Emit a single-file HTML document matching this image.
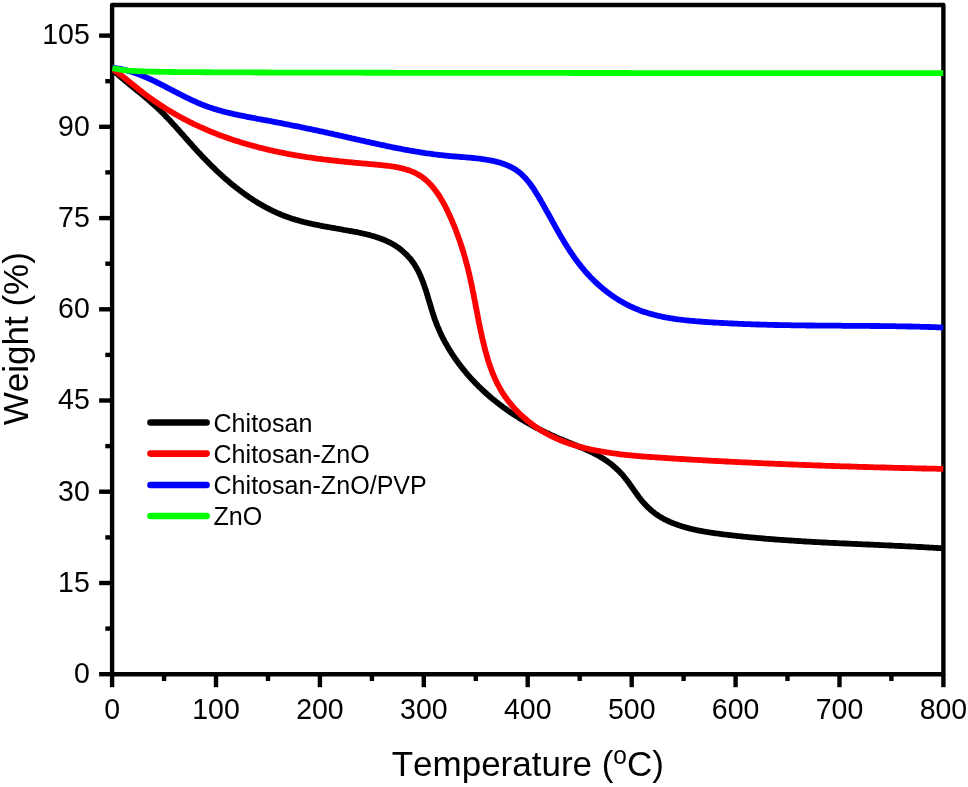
<!DOCTYPE html>
<html lang="en">
<head>
<meta charset="utf-8">
<title>TGA curves</title>
<style>
html,body{margin:0;padding:0;background:#fff;}
body{width:968px;height:787px;overflow:hidden;}
svg{display:block;will-change:transform;}
text{font-family:"Liberation Sans",Arial,Helvetica,sans-serif;fill:#000;font-kerning:none;}
.tick{font-size:28.5px;}
.title{font-size:35px;}
.leg{font-size:25.1px;}
</style>
</head>
<body>
<svg width="968" height="787" viewBox="0 0 968 787">
<rect x="0" y="0" width="968" height="787" fill="#ffffff"/>
<rect x="112.1" y="5.0" width="831.3" height="669.2" fill="none" stroke="#000" stroke-width="4.4" stroke-linejoin="round"/>
<g stroke="#000" stroke-width="4.4" fill="none">
<line x1="112.1" y1="674.2" x2="112.1" y2="687.2"/>
<line x1="164.1" y1="674.2" x2="164.1" y2="681.0"/>
<line x1="216.0" y1="674.2" x2="216.0" y2="687.2"/>
<line x1="268.0" y1="674.2" x2="268.0" y2="681.0"/>
<line x1="319.9" y1="674.2" x2="319.9" y2="687.2"/>
<line x1="371.9" y1="674.2" x2="371.9" y2="681.0"/>
<line x1="423.8" y1="674.2" x2="423.8" y2="687.2"/>
<line x1="475.8" y1="674.2" x2="475.8" y2="681.0"/>
<line x1="527.7" y1="674.2" x2="527.7" y2="687.2"/>
<line x1="579.7" y1="674.2" x2="579.7" y2="681.0"/>
<line x1="631.7" y1="674.2" x2="631.7" y2="687.2"/>
<line x1="683.6" y1="674.2" x2="683.6" y2="681.0"/>
<line x1="735.6" y1="674.2" x2="735.6" y2="687.2"/>
<line x1="787.5" y1="674.2" x2="787.5" y2="681.0"/>
<line x1="839.5" y1="674.2" x2="839.5" y2="687.2"/>
<line x1="891.4" y1="674.2" x2="891.4" y2="681.0"/>
<line x1="943.4" y1="674.2" x2="943.4" y2="687.2"/>
<line x1="112.1" y1="674.2" x2="99.1" y2="674.2"/>
<line x1="112.1" y1="628.6" x2="105.3" y2="628.6"/>
<line x1="112.1" y1="583.0" x2="99.1" y2="583.0"/>
<line x1="112.1" y1="537.4" x2="105.3" y2="537.4"/>
<line x1="112.1" y1="491.7" x2="99.1" y2="491.7"/>
<line x1="112.1" y1="446.1" x2="105.3" y2="446.1"/>
<line x1="112.1" y1="400.5" x2="99.1" y2="400.5"/>
<line x1="112.1" y1="354.9" x2="105.3" y2="354.9"/>
<line x1="112.1" y1="309.3" x2="99.1" y2="309.3"/>
<line x1="112.1" y1="263.7" x2="105.3" y2="263.7"/>
<line x1="112.1" y1="218.1" x2="99.1" y2="218.1"/>
<line x1="112.1" y1="172.4" x2="105.3" y2="172.4"/>
<line x1="112.1" y1="126.8" x2="99.1" y2="126.8"/>
<line x1="112.1" y1="81.2" x2="105.3" y2="81.2"/>
<line x1="112.1" y1="35.6" x2="99.1" y2="35.6"/>
</g>
<text class="tick" transform="translate(112.1,718.8) scale(1,1.055)" text-anchor="middle">0</text>
<text class="tick" transform="translate(216.0,718.8) scale(1,1.055)" text-anchor="middle">100</text>
<text class="tick" transform="translate(319.9,718.8) scale(1,1.055)" text-anchor="middle">200</text>
<text class="tick" transform="translate(423.8,718.8) scale(1,1.055)" text-anchor="middle">300</text>
<text class="tick" transform="translate(527.7,718.8) scale(1,1.055)" text-anchor="middle">400</text>
<text class="tick" transform="translate(631.7,718.8) scale(1,1.055)" text-anchor="middle">500</text>
<text class="tick" transform="translate(735.6,718.8) scale(1,1.055)" text-anchor="middle">600</text>
<text class="tick" transform="translate(839.5,718.8) scale(1,1.055)" text-anchor="middle">700</text>
<text class="tick" transform="translate(943.4,718.8) scale(1,1.055)" text-anchor="middle">800</text>
<text class="tick" transform="translate(89.8,683.0) scale(1,1.055)" text-anchor="end">0</text>
<text class="tick" transform="translate(89.8,591.8) scale(1,1.055)" text-anchor="end">15</text>
<text class="tick" transform="translate(89.8,500.5) scale(1,1.055)" text-anchor="end">30</text>
<text class="tick" transform="translate(89.8,409.3) scale(1,1.055)" text-anchor="end">45</text>
<text class="tick" transform="translate(89.8,318.1) scale(1,1.055)" text-anchor="end">60</text>
<text class="tick" transform="translate(89.8,226.9) scale(1,1.055)" text-anchor="end">75</text>
<text class="tick" transform="translate(89.8,135.6) scale(1,1.055)" text-anchor="end">90</text>
<text class="tick" transform="translate(89.8,44.4) scale(1,1.055)" text-anchor="end">105</text>
<text class="title" transform="translate(527.8,776.4) scale(1,1.02)" text-anchor="middle">Temperature (<tspan font-size="24.5px" dy="-12.6">o</tspan><tspan dy="12.6">C)</tspan></text>
<text class="title" transform="translate(28.3,338.7) rotate(-90) scale(1,1.02)" text-anchor="middle">Weight (%)</text>
<defs><clipPath id="plotclip"><rect x="112" y="0" width="831.6" height="787"/></clipPath></defs>
<g clip-path="url(#plotclip)">
<path d="M112.4 69.5 L113.5 70.5 L114.6 71.5 L115.7 72.6 L116.8 73.6 L118.0 74.6 L119.1 75.5 L120.2 76.5 L121.4 77.5 L122.5 78.5 L123.7 79.4 L124.8 80.4 L126.0 81.4 L127.1 82.3 L128.3 83.3 L129.4 84.2 L130.6 85.2 L131.8 86.1 L132.9 87.1 L134.1 88.0 L135.3 89.0 L136.4 89.9 L137.6 90.9 L138.8 91.8 L139.9 92.8 L141.1 93.7 L142.3 94.7 L143.4 95.7 L144.6 96.6 L145.7 97.6 L146.9 98.5 L148.0 99.5 L149.2 100.5 L150.3 101.5 L151.4 102.5 L152.5 103.5 L153.7 104.5 L154.8 105.5 L155.9 106.5 L157.0 107.5 L158.1 108.6 L159.1 109.6 L160.2 110.6 L161.3 111.7 L162.3 112.7 L163.4 113.8 L164.5 114.9 L165.5 116.0 L166.6 117.0 L167.6 118.1 L168.6 119.2 L169.7 120.3 L170.7 121.4 L171.7 122.5 L172.7 123.6 L173.7 124.7 L174.8 125.8 L175.8 127.0 L176.8 128.1 L177.8 129.2 L178.8 130.3 L179.8 131.4 L180.8 132.6 L181.8 133.7 L182.8 134.8 L183.8 135.9 L184.8 137.1 L185.8 138.2 L186.8 139.3 L187.8 140.5 L188.8 141.6 L189.8 142.7 L190.8 143.8 L191.8 144.9 L192.8 146.1 L193.8 147.2 L194.8 148.3 L195.8 149.4 L196.8 150.5 L197.8 151.6 L198.9 152.7 L199.9 153.8 L200.9 154.9 L201.9 156.0 L203.0 157.1 L204.0 158.1 L205.1 159.2 L206.1 160.3 L207.1 161.4 L208.2 162.4 L209.2 163.5 L210.3 164.6 L211.4 165.6 L212.4 166.7 L213.5 167.7 L214.6 168.7 L215.6 169.8 L216.7 170.8 L217.8 171.8 L218.9 172.9 L220.0 173.9 L221.1 174.9 L222.2 175.9 L223.3 176.9 L224.4 177.9 L225.6 178.9 L226.7 179.8 L227.8 180.8 L229.0 181.8 L230.1 182.8 L231.2 183.7 L232.4 184.7 L233.6 185.6 L234.7 186.5 L235.9 187.5 L237.1 188.4 L238.3 189.3 L239.5 190.2 L240.7 191.1 L241.9 192.0 L243.1 192.9 L244.3 193.8 L245.5 194.7 L246.8 195.5 L248.0 196.4 L249.3 197.3 L250.5 198.1 L251.8 198.9 L253.1 199.8 L254.3 200.6 L255.6 201.4 L256.9 202.2 L258.2 203.0 L259.5 203.8 L260.8 204.5 L262.1 205.3 L263.5 206.0 L264.8 206.8 L266.1 207.5 L267.4 208.2 L268.8 208.9 L270.1 209.6 L271.5 210.2 L272.8 210.9 L274.2 211.6 L275.6 212.2 L276.9 212.8 L278.3 213.4 L279.7 214.0 L281.1 214.6 L282.5 215.2 L283.9 215.7 L285.3 216.2 L286.7 216.8 L288.1 217.3 L289.5 217.8 L290.9 218.2 L292.3 218.7 L293.7 219.1 L295.1 219.6 L296.6 220.0 L298.0 220.4 L299.4 220.8 L300.8 221.2 L302.3 221.6 L303.7 222.0 L305.2 222.3 L306.6 222.7 L308.1 223.0 L309.5 223.4 L311.0 223.7 L312.4 224.0 L313.9 224.3 L315.3 224.6 L316.8 224.9 L318.3 225.2 L319.7 225.5 L321.2 225.8 L322.7 226.1 L324.2 226.4 L325.6 226.6 L327.1 226.9 L328.6 227.2 L330.1 227.4 L331.5 227.7 L333.0 227.9 L334.5 228.2 L336.0 228.5 L337.5 228.7 L339.0 229.0 L340.5 229.2 L342.0 229.5 L343.5 229.8 L344.9 230.0 L346.4 230.3 L347.9 230.5 L349.4 230.8 L350.9 231.1 L352.4 231.4 L353.9 231.7 L355.4 231.9 L356.9 232.2 L358.4 232.5 L359.9 232.8 L361.4 233.2 L362.9 233.5 L364.4 233.8 L365.8 234.2 L367.3 234.5 L368.8 234.9 L370.2 235.3 L371.7 235.7 L373.2 236.1 L374.6 236.5 L376.0 237.0 L377.5 237.4 L378.9 237.9 L380.3 238.4 L381.7 238.9 L383.1 239.5 L384.5 240.1 L385.8 240.7 L387.2 241.3 L388.5 241.9 L389.9 242.6 L391.2 243.3 L392.5 244.0 L393.8 244.7 L395.0 245.5 L396.3 246.3 L397.5 247.2 L398.8 248.0 L400.0 248.9 L401.1 249.9 L402.3 250.8 L403.4 251.8 L404.5 252.8 L405.6 253.8 L406.7 254.9 L407.7 256.0 L408.7 257.1 L409.7 258.2 L410.7 259.3 L411.6 260.5 L412.5 261.7 L413.4 262.9 L414.2 264.1 L415.0 265.4 L415.8 266.7 L416.5 268.0 L417.3 269.3 L418.0 270.6 L418.6 271.9 L419.3 273.3 L419.9 274.6 L420.5 276.0 L421.1 277.4 L421.7 278.8 L422.2 280.2 L422.8 281.6 L423.3 283.0 L423.8 284.4 L424.3 285.8 L424.8 287.3 L425.3 288.7 L425.8 290.1 L426.2 291.6 L426.7 293.0 L427.1 294.5 L427.6 295.9 L428.0 297.4 L428.4 298.8 L428.9 300.3 L429.3 301.7 L429.7 303.2 L430.2 304.6 L430.6 306.1 L431.0 307.5 L431.5 309.0 L431.9 310.4 L432.4 311.9 L432.8 313.3 L433.3 314.7 L433.8 316.2 L434.2 317.6 L434.7 319.0 L435.2 320.4 L435.8 321.9 L436.3 323.3 L436.8 324.7 L437.4 326.1 L438.0 327.4 L438.6 328.8 L439.2 330.2 L439.8 331.6 L440.4 332.9 L441.0 334.3 L441.7 335.6 L442.3 337.0 L443.0 338.3 L443.7 339.6 L444.4 341.0 L445.1 342.3 L445.8 343.6 L446.6 344.9 L447.3 346.2 L448.1 347.5 L448.8 348.8 L449.6 350.1 L450.4 351.3 L451.2 352.6 L452.0 353.9 L452.8 355.1 L453.7 356.4 L454.5 357.6 L455.3 358.8 L456.2 360.1 L457.1 361.3 L458.0 362.5 L458.9 363.7 L459.8 364.9 L460.7 366.1 L461.6 367.3 L462.5 368.4 L463.5 369.6 L464.4 370.8 L465.4 371.9 L466.3 373.1 L467.3 374.2 L468.3 375.4 L469.3 376.5 L470.3 377.6 L471.3 378.7 L472.3 379.8 L473.4 380.9 L474.4 382.0 L475.4 383.1 L476.5 384.2 L477.6 385.2 L478.6 386.3 L479.7 387.3 L480.8 388.4 L481.9 389.4 L483.0 390.5 L484.1 391.5 L485.2 392.5 L486.3 393.5 L487.4 394.5 L488.6 395.5 L489.7 396.5 L490.8 397.5 L492.0 398.4 L493.2 399.4 L494.3 400.3 L495.5 401.3 L496.7 402.2 L497.8 403.1 L499.0 404.1 L500.2 405.0 L501.4 405.9 L502.6 406.8 L503.8 407.7 L505.1 408.5 L506.3 409.4 L507.5 410.3 L508.7 411.1 L510.0 412.0 L511.2 412.8 L512.4 413.6 L513.7 414.5 L515.0 415.3 L516.2 416.1 L517.5 416.9 L518.7 417.7 L520.0 418.5 L521.3 419.3 L522.6 420.0 L523.9 420.8 L525.2 421.6 L526.5 422.3 L527.8 423.0 L529.1 423.8 L530.4 424.5 L531.7 425.2 L533.0 426.0 L534.3 426.7 L535.7 427.4 L537.0 428.1 L538.3 428.8 L539.7 429.4 L541.0 430.1 L542.4 430.8 L543.7 431.5 L545.1 432.1 L546.4 432.8 L547.8 433.4 L549.2 434.0 L550.5 434.7 L551.9 435.3 L553.3 435.9 L554.6 436.5 L556.0 437.2 L557.4 437.8 L558.8 438.4 L560.2 438.9 L561.6 439.5 L563.0 440.1 L564.4 440.7 L565.8 441.3 L567.2 441.8 L568.6 442.4 L570.0 443.0 L571.4 443.5 L572.8 444.1 L574.2 444.7 L575.6 445.2 L577.0 445.8 L578.4 446.4 L579.8 447.0 L581.2 447.5 L582.6 448.1 L584.0 448.7 L585.4 449.3 L586.8 449.9 L588.1 450.6 L589.5 451.2 L590.8 451.8 L592.2 452.5 L593.5 453.2 L594.8 453.8 L596.2 454.5 L597.5 455.2 L598.8 455.9 L600.1 456.7 L601.3 457.4 L602.6 458.2 L603.9 459.0 L605.1 459.8 L606.3 460.6 L607.5 461.5 L608.7 462.4 L609.9 463.2 L611.1 464.1 L612.3 465.1 L613.4 466.0 L614.5 467.0 L615.7 468.0 L616.7 469.0 L617.8 470.0 L618.9 471.0 L619.9 472.1 L621.0 473.2 L622.0 474.3 L623.0 475.4 L623.9 476.6 L624.9 477.7 L625.8 478.9 L626.7 480.1 L627.7 481.3 L628.6 482.5 L629.4 483.8 L630.3 485.0 L631.2 486.3 L632.1 487.5 L633.0 488.8 L633.8 490.0 L634.7 491.3 L635.6 492.5 L636.5 493.7 L637.4 495.0 L638.3 496.2 L639.2 497.4 L640.1 498.6 L641.0 499.8 L642.0 501.0 L643.0 502.1 L644.0 503.2 L645.0 504.4 L646.0 505.4 L647.0 506.5 L648.1 507.5 L649.2 508.6 L650.3 509.5 L651.4 510.5 L652.6 511.5 L653.8 512.4 L654.9 513.3 L656.1 514.2 L657.4 515.0 L658.6 515.8 L659.8 516.6 L661.1 517.4 L662.4 518.1 L663.7 518.9 L665.0 519.6 L666.3 520.2 L667.7 520.9 L669.0 521.5 L670.4 522.1 L671.8 522.7 L673.2 523.2 L674.6 523.8 L676.0 524.3 L677.4 524.8 L678.8 525.3 L680.2 525.7 L681.6 526.2 L683.1 526.6 L684.5 527.1 L685.9 527.5 L687.4 527.9 L688.8 528.3 L690.3 528.6 L691.7 529.0 L693.2 529.3 L694.7 529.7 L696.1 530.0 L697.6 530.3 L699.1 530.6 L700.6 530.9 L702.1 531.2 L703.5 531.5 L705.0 531.7 L706.5 532.0 L708.0 532.2 L709.5 532.5 L711.0 532.7 L712.5 532.9 L714.0 533.1 L715.5 533.3 L717.0 533.5 L718.5 533.7 L720.0 533.9 L721.5 534.1 L723.0 534.3 L724.5 534.5 L726.0 534.7 L727.5 534.9 L729.0 535.0 L730.5 535.2 L732.0 535.4 L733.5 535.6 L735.0 535.7 L736.5 535.9 L738.1 536.1 L739.6 536.2 L741.1 536.4 L742.6 536.5 L744.1 536.7 L745.6 536.8 L747.1 537.0 L748.6 537.1 L750.1 537.3 L751.6 537.4 L753.1 537.6 L754.6 537.7 L756.1 537.8 L757.6 538.0 L759.1 538.1 L760.6 538.2 L762.1 538.4 L763.6 538.5 L765.1 538.6 L766.5 538.8 L768.0 538.9 L769.5 539.0 L771.0 539.1 L772.5 539.2 L774.0 539.4 L775.5 539.5 L777.0 539.6 L778.5 539.7 L780.0 539.8 L781.5 539.9 L783.0 540.0 L784.5 540.1 L786.0 540.2 L787.5 540.3 L789.0 540.4 L790.5 540.5 L792.0 540.6 L793.5 540.7 L795.0 540.8 L796.5 540.9 L798.0 541.0 L799.5 541.1 L801.0 541.2 L802.5 541.3 L804.0 541.4 L805.5 541.5 L806.9 541.6 L808.4 541.6 L809.9 541.7 L811.4 541.8 L812.9 541.9 L814.4 542.0 L815.9 542.1 L817.4 542.1 L818.9 542.2 L820.4 542.3 L821.9 542.4 L823.4 542.5 L824.9 542.5 L826.4 542.6 L827.9 542.7 L829.4 542.8 L830.9 542.8 L832.4 542.9 L833.9 543.0 L835.4 543.0 L836.8 543.1 L838.3 543.2 L839.8 543.3 L841.3 543.3 L842.8 543.4 L844.3 543.5 L845.8 543.5 L847.3 543.6 L848.8 543.7 L850.3 543.7 L851.8 543.8 L853.3 543.9 L854.8 543.9 L856.3 544.0 L857.8 544.1 L859.3 544.1 L860.8 544.2 L862.3 544.3 L863.8 544.3 L865.3 544.4 L866.8 544.5 L868.3 544.5 L869.8 544.6 L871.3 544.7 L872.8 544.7 L874.3 544.8 L875.7 544.9 L877.2 544.9 L878.7 545.0 L880.2 545.1 L881.7 545.1 L883.2 545.2 L884.7 545.3 L886.2 545.3 L887.7 545.4 L889.2 545.5 L890.7 545.5 L892.2 545.6 L893.7 545.7 L895.2 545.8 L896.7 545.8 L898.2 545.9 L899.7 546.0 L901.2 546.0 L902.7 546.1 L904.2 546.2 L905.7 546.3 L907.3 546.3 L908.8 546.4 L910.3 546.5 L911.8 546.6 L913.3 546.6 L914.8 546.7 L916.3 546.8 L917.8 546.9 L919.3 547.0 L920.8 547.0 L922.3 547.1 L923.8 547.2 L925.3 547.3 L926.8 547.4 L928.3 547.5 L929.8 547.6 L931.3 547.6 L932.8 547.7 L934.3 547.8 L935.9 547.9 L937.4 548.0 L938.9 548.1 L940.4 548.2 L941.9 548.3 L943.4 548.4" fill="none" stroke="#000000" stroke-width="5.8" stroke-linejoin="round" stroke-linecap="butt"/>
<path d="M112.4 69.0 L113.6 69.8 L114.9 70.7 L116.1 71.5 L117.3 72.4 L118.5 73.3 L119.7 74.2 L120.9 75.1 L122.1 76.0 L123.3 77.0 L124.5 77.9 L125.7 78.8 L126.8 79.8 L128.0 80.7 L129.2 81.7 L130.4 82.6 L131.5 83.6 L132.7 84.5 L133.9 85.5 L135.1 86.4 L136.2 87.4 L137.4 88.3 L138.6 89.3 L139.8 90.2 L141.0 91.1 L142.2 92.1 L143.3 93.0 L144.5 93.9 L145.7 94.8 L147.0 95.7 L148.2 96.6 L149.4 97.5 L150.6 98.4 L151.8 99.2 L153.1 100.1 L154.3 101.0 L155.5 101.8 L156.8 102.6 L158.0 103.5 L159.3 104.3 L160.5 105.1 L161.8 106.0 L163.0 106.8 L164.3 107.6 L165.6 108.4 L166.8 109.2 L168.1 110.0 L169.4 110.7 L170.7 111.5 L172.0 112.3 L173.2 113.0 L174.5 113.8 L175.8 114.5 L177.1 115.3 L178.4 116.0 L179.8 116.7 L181.1 117.4 L182.4 118.2 L183.7 118.9 L185.0 119.6 L186.4 120.2 L187.7 120.9 L189.0 121.6 L190.4 122.3 L191.7 122.9 L193.0 123.6 L194.4 124.3 L195.7 124.9 L197.1 125.5 L198.5 126.2 L199.8 126.8 L201.2 127.4 L202.6 128.0 L203.9 128.6 L205.3 129.2 L206.7 129.8 L208.1 130.4 L209.4 131.0 L210.8 131.6 L212.2 132.2 L213.6 132.7 L215.0 133.3 L216.4 133.8 L217.8 134.4 L219.2 134.9 L220.6 135.4 L222.0 136.0 L223.5 136.5 L224.9 137.0 L226.3 137.5 L227.7 138.0 L229.1 138.5 L230.6 139.0 L232.0 139.5 L233.4 139.9 L234.8 140.4 L236.3 140.9 L237.7 141.3 L239.2 141.8 L240.6 142.2 L242.0 142.7 L243.5 143.1 L244.9 143.5 L246.4 144.0 L247.8 144.4 L249.3 144.8 L250.7 145.2 L252.2 145.6 L253.6 146.0 L255.1 146.4 L256.6 146.8 L258.0 147.2 L259.5 147.6 L260.9 147.9 L262.4 148.3 L263.9 148.7 L265.3 149.0 L266.8 149.4 L268.3 149.7 L269.7 150.1 L271.2 150.4 L272.7 150.7 L274.2 151.1 L275.6 151.4 L277.1 151.7 L278.6 152.0 L280.1 152.3 L281.5 152.6 L283.0 152.9 L284.5 153.2 L286.0 153.5 L287.5 153.8 L288.9 154.1 L290.4 154.3 L291.9 154.6 L293.4 154.9 L294.8 155.1 L296.3 155.4 L297.8 155.6 L299.3 155.9 L300.8 156.1 L302.2 156.4 L303.7 156.6 L305.2 156.8 L306.7 157.1 L308.2 157.3 L309.6 157.5 L311.1 157.7 L312.6 157.9 L314.1 158.2 L315.6 158.4 L317.0 158.6 L318.5 158.8 L320.0 158.9 L321.5 159.1 L322.9 159.3 L324.4 159.5 L325.9 159.7 L327.4 159.9 L328.8 160.0 L330.3 160.2 L331.8 160.4 L333.3 160.5 L334.8 160.7 L336.2 160.9 L337.7 161.0 L339.2 161.2 L340.7 161.3 L342.2 161.5 L343.7 161.6 L345.1 161.8 L346.6 161.9 L348.1 162.1 L349.6 162.2 L351.1 162.4 L352.6 162.5 L354.1 162.6 L355.6 162.8 L357.1 162.9 L358.6 163.1 L360.1 163.2 L361.6 163.3 L363.1 163.5 L364.6 163.6 L366.2 163.7 L367.7 163.9 L369.2 164.0 L370.7 164.2 L372.2 164.3 L373.8 164.4 L375.3 164.6 L376.8 164.7 L378.4 164.9 L379.9 165.0 L381.4 165.1 L383.0 165.3 L384.5 165.5 L386.0 165.6 L387.6 165.8 L389.1 166.0 L390.6 166.2 L392.1 166.5 L393.6 166.7 L395.1 166.9 L396.6 167.2 L398.1 167.5 L399.6 167.8 L401.0 168.1 L402.5 168.5 L403.9 168.9 L405.4 169.3 L406.8 169.7 L408.2 170.1 L409.6 170.6 L410.9 171.1 L412.3 171.7 L413.6 172.2 L414.9 172.8 L416.2 173.5 L417.5 174.2 L418.7 174.9 L420.0 175.6 L421.2 176.4 L422.4 177.2 L423.5 178.1 L424.7 179.0 L425.8 180.0 L426.9 180.9 L428.0 181.9 L429.0 183.0 L430.0 184.0 L431.1 185.1 L432.0 186.3 L433.0 187.4 L434.0 188.6 L434.9 189.8 L435.8 191.0 L436.7 192.2 L437.6 193.5 L438.4 194.7 L439.3 196.0 L440.1 197.3 L440.9 198.6 L441.7 200.0 L442.5 201.3 L443.2 202.6 L443.9 204.0 L444.7 205.3 L445.4 206.7 L446.1 208.0 L446.8 209.4 L447.4 210.8 L448.1 212.2 L448.7 213.6 L449.4 215.0 L450.0 216.3 L450.6 217.7 L451.3 219.1 L451.9 220.5 L452.5 221.9 L453.0 223.3 L453.6 224.7 L454.2 226.1 L454.8 227.5 L455.3 228.9 L455.9 230.3 L456.4 231.7 L456.9 233.1 L457.4 234.5 L458.0 236.0 L458.5 237.4 L459.0 238.8 L459.5 240.2 L460.0 241.6 L460.4 243.0 L460.9 244.4 L461.4 245.9 L461.8 247.3 L462.3 248.7 L462.7 250.1 L463.2 251.5 L463.6 253.0 L464.0 254.4 L464.4 255.8 L464.9 257.3 L465.3 258.7 L465.7 260.1 L466.0 261.6 L466.4 263.0 L466.8 264.4 L467.2 265.9 L467.6 267.3 L467.9 268.8 L468.3 270.2 L468.6 271.7 L469.0 273.1 L469.3 274.6 L469.7 276.0 L470.0 277.5 L470.3 278.9 L470.6 280.4 L471.0 281.9 L471.3 283.3 L471.6 284.8 L471.9 286.3 L472.2 287.7 L472.5 289.2 L472.8 290.7 L473.1 292.1 L473.4 293.6 L473.7 295.1 L474.0 296.5 L474.2 298.0 L474.5 299.5 L474.8 301.0 L475.1 302.4 L475.4 303.9 L475.7 305.4 L475.9 306.9 L476.2 308.4 L476.5 309.8 L476.8 311.3 L477.1 312.8 L477.4 314.3 L477.6 315.8 L477.9 317.2 L478.2 318.7 L478.5 320.2 L478.8 321.7 L479.1 323.2 L479.4 324.6 L479.7 326.1 L480.0 327.6 L480.3 329.1 L480.6 330.5 L480.9 332.0 L481.3 333.5 L481.6 335.0 L481.9 336.4 L482.2 337.9 L482.6 339.4 L482.9 340.9 L483.3 342.3 L483.6 343.8 L484.0 345.3 L484.4 346.7 L484.7 348.2 L485.1 349.7 L485.5 351.1 L485.9 352.6 L486.3 354.1 L486.7 355.5 L487.1 357.0 L487.6 358.4 L488.0 359.9 L488.4 361.3 L488.9 362.7 L489.4 364.2 L489.9 365.6 L490.3 367.0 L490.9 368.4 L491.4 369.8 L491.9 371.2 L492.4 372.6 L493.0 374.0 L493.6 375.4 L494.2 376.8 L494.8 378.2 L495.4 379.5 L496.0 380.9 L496.7 382.2 L497.3 383.6 L498.0 384.9 L498.7 386.2 L499.4 387.5 L500.1 388.8 L500.9 390.1 L501.7 391.4 L502.4 392.6 L503.3 393.9 L504.1 395.1 L504.9 396.4 L505.8 397.6 L506.7 398.8 L507.5 400.0 L508.5 401.2 L509.4 402.4 L510.3 403.5 L511.3 404.7 L512.2 405.8 L513.2 407.0 L514.2 408.1 L515.2 409.2 L516.3 410.3 L517.3 411.4 L518.4 412.5 L519.4 413.5 L520.5 414.6 L521.6 415.6 L522.7 416.6 L523.9 417.6 L525.0 418.6 L526.2 419.6 L527.3 420.5 L528.5 421.5 L529.7 422.4 L530.9 423.3 L532.1 424.3 L533.3 425.1 L534.5 426.0 L535.7 426.9 L537.0 427.7 L538.2 428.6 L539.5 429.4 L540.8 430.2 L542.1 431.0 L543.4 431.8 L544.7 432.5 L546.0 433.3 L547.3 434.0 L548.6 434.7 L549.9 435.4 L551.3 436.1 L552.6 436.8 L554.0 437.4 L555.3 438.0 L556.7 438.7 L558.1 439.3 L559.5 439.8 L560.8 440.4 L562.2 441.0 L563.6 441.5 L565.0 442.0 L566.4 442.6 L567.8 443.1 L569.3 443.6 L570.7 444.0 L572.1 444.5 L573.5 444.9 L575.0 445.4 L576.4 445.8 L577.9 446.2 L579.3 446.6 L580.7 447.0 L582.2 447.4 L583.7 447.8 L585.1 448.1 L586.6 448.5 L588.0 448.8 L589.5 449.1 L591.0 449.5 L592.4 449.8 L593.9 450.1 L595.4 450.4 L596.9 450.7 L598.3 450.9 L599.8 451.2 L601.3 451.5 L602.8 451.7 L604.3 452.0 L605.8 452.2 L607.2 452.5 L608.7 452.7 L610.2 452.9 L611.7 453.1 L613.2 453.3 L614.7 453.5 L616.2 453.7 L617.6 453.9 L619.1 454.1 L620.6 454.3 L622.1 454.5 L623.6 454.6 L625.1 454.8 L626.6 455.0 L628.1 455.1 L629.6 455.3 L631.1 455.4 L632.6 455.6 L634.1 455.7 L635.6 455.8 L637.1 456.0 L638.6 456.1 L640.1 456.2 L641.6 456.4 L643.1 456.5 L644.6 456.6 L646.1 456.7 L647.6 456.8 L649.1 456.9 L650.6 457.0 L652.1 457.1 L653.6 457.2 L655.1 457.3 L656.6 457.4 L658.1 457.5 L659.6 457.6 L661.1 457.7 L662.6 457.8 L664.1 457.9 L665.6 458.0 L667.1 458.1 L668.6 458.2 L670.1 458.3 L671.6 458.4 L673.1 458.5 L674.6 458.6 L676.1 458.7 L677.6 458.8 L679.1 458.9 L680.6 459.0 L682.1 459.0 L683.6 459.1 L685.1 459.2 L686.6 459.3 L688.1 459.4 L689.6 459.5 L691.1 459.6 L692.6 459.7 L694.1 459.8 L695.6 459.8 L697.1 459.9 L698.6 460.0 L700.1 460.1 L701.6 460.2 L703.1 460.3 L704.6 460.3 L706.1 460.4 L707.6 460.5 L709.1 460.6 L710.6 460.7 L712.1 460.8 L713.6 460.8 L715.1 460.9 L716.6 461.0 L718.1 461.1 L719.6 461.2 L721.1 461.2 L722.6 461.3 L724.1 461.4 L725.6 461.5 L727.1 461.5 L728.6 461.6 L730.1 461.7 L731.6 461.8 L733.1 461.8 L734.6 461.9 L736.1 462.0 L737.6 462.1 L739.1 462.1 L740.6 462.2 L742.1 462.3 L743.6 462.4 L745.1 462.4 L746.6 462.5 L748.1 462.6 L749.6 462.6 L751.1 462.7 L752.6 462.8 L754.1 462.9 L755.6 462.9 L757.1 463.0 L758.6 463.1 L760.1 463.1 L761.6 463.2 L763.1 463.3 L764.6 463.3 L766.1 463.4 L767.6 463.5 L769.1 463.5 L770.6 463.6 L772.1 463.7 L773.6 463.7 L775.1 463.8 L776.6 463.9 L778.1 463.9 L779.6 464.0 L781.1 464.0 L782.7 464.1 L784.2 464.2 L785.7 464.2 L787.2 464.3 L788.7 464.4 L790.2 464.4 L791.7 464.5 L793.2 464.5 L794.7 464.6 L796.2 464.6 L797.7 464.7 L799.2 464.8 L800.7 464.8 L802.2 464.9 L803.7 464.9 L805.2 465.0 L806.7 465.1 L808.2 465.1 L809.7 465.2 L811.2 465.2 L812.7 465.3 L814.2 465.3 L815.7 465.4 L817.2 465.4 L818.7 465.5 L820.2 465.5 L821.7 465.6 L823.2 465.6 L824.7 465.7 L826.2 465.8 L827.7 465.8 L829.2 465.9 L830.7 465.9 L832.2 466.0 L833.7 466.0 L835.2 466.1 L836.7 466.1 L838.2 466.2 L839.7 466.2 L841.2 466.3 L842.7 466.3 L844.2 466.4 L845.7 466.4 L847.2 466.4 L848.7 466.5 L850.2 466.5 L851.7 466.6 L853.2 466.6 L854.7 466.7 L856.2 466.7 L857.7 466.8 L859.2 466.8 L860.7 466.9 L862.3 466.9 L863.8 467.0 L865.3 467.0 L866.8 467.0 L868.3 467.1 L869.8 467.1 L871.3 467.2 L872.8 467.2 L874.3 467.3 L875.8 467.3 L877.3 467.3 L878.8 467.4 L880.3 467.4 L881.8 467.5 L883.3 467.5 L884.8 467.5 L886.3 467.6 L887.8 467.6 L889.3 467.7 L890.8 467.7 L892.3 467.7 L893.8 467.8 L895.3 467.8 L896.8 467.8 L898.3 467.9 L899.8 467.9 L901.3 468.0 L902.8 468.0 L904.3 468.0 L905.8 468.1 L907.3 468.1 L908.8 468.1 L910.3 468.2 L911.8 468.2 L913.3 468.2 L914.8 468.3 L916.3 468.3 L917.8 468.4 L919.4 468.4 L920.9 468.4 L922.4 468.5 L923.9 468.5 L925.4 468.5 L926.9 468.6 L928.4 468.6 L929.9 468.6 L931.4 468.7 L932.9 468.7 L934.4 468.7 L935.9 468.7 L937.4 468.8 L938.9 468.8 L940.4 468.8 L941.9 468.9 L943.4 468.9" fill="none" stroke="#ff0000" stroke-width="5.8" stroke-linejoin="round" stroke-linecap="butt"/>
<path d="M112.4 67.6 L113.9 67.8 L115.4 68.0 L117.0 68.3 L118.5 68.5 L119.9 68.8 L121.4 69.1 L122.9 69.5 L124.4 69.8 L125.8 70.2 L127.3 70.6 L128.7 71.0 L130.2 71.4 L131.6 71.8 L133.0 72.3 L134.4 72.8 L135.8 73.3 L137.2 73.8 L138.6 74.3 L140.0 74.8 L141.4 75.4 L142.8 75.9 L144.2 76.5 L145.6 77.1 L146.9 77.7 L148.3 78.3 L149.6 78.9 L151.0 79.5 L152.4 80.2 L153.7 80.8 L155.1 81.4 L156.4 82.1 L157.8 82.8 L159.1 83.4 L160.4 84.1 L161.8 84.8 L163.1 85.5 L164.5 86.2 L165.8 86.9 L167.1 87.6 L168.5 88.3 L169.8 89.0 L171.1 89.7 L172.5 90.4 L173.8 91.1 L175.2 91.8 L176.5 92.5 L177.8 93.1 L179.2 93.8 L180.5 94.5 L181.9 95.2 L183.2 95.9 L184.6 96.6 L185.9 97.3 L187.3 97.9 L188.6 98.6 L190.0 99.2 L191.3 99.9 L192.7 100.5 L194.1 101.1 L195.4 101.7 L196.8 102.4 L198.2 103.0 L199.5 103.5 L200.9 104.1 L202.3 104.7 L203.7 105.2 L205.1 105.7 L206.5 106.3 L207.9 106.8 L209.3 107.3 L210.8 107.7 L212.2 108.2 L213.6 108.7 L215.0 109.1 L216.5 109.6 L217.9 110.0 L219.3 110.4 L220.8 110.8 L222.2 111.2 L223.7 111.6 L225.1 112.0 L226.6 112.3 L228.0 112.7 L229.5 113.0 L230.9 113.4 L232.4 113.7 L233.9 114.1 L235.3 114.4 L236.8 114.7 L238.3 115.0 L239.8 115.3 L241.2 115.6 L242.7 115.9 L244.2 116.2 L245.7 116.5 L247.1 116.8 L248.6 117.1 L250.1 117.4 L251.6 117.7 L253.1 117.9 L254.6 118.2 L256.0 118.5 L257.5 118.8 L259.0 119.0 L260.5 119.3 L262.0 119.6 L263.5 119.9 L264.9 120.1 L266.4 120.4 L267.9 120.7 L269.4 121.0 L270.9 121.2 L272.4 121.5 L273.8 121.8 L275.3 122.1 L276.8 122.4 L278.3 122.7 L279.7 122.9 L281.2 123.2 L282.7 123.5 L284.2 123.8 L285.7 124.1 L287.1 124.4 L288.6 124.7 L290.1 125.0 L291.6 125.3 L293.0 125.6 L294.5 125.8 L296.0 126.1 L297.4 126.4 L298.9 126.7 L300.4 127.0 L301.9 127.3 L303.3 127.6 L304.8 128.0 L306.3 128.3 L307.7 128.6 L309.2 128.9 L310.7 129.2 L312.2 129.5 L313.6 129.8 L315.1 130.1 L316.6 130.4 L318.0 130.7 L319.5 131.1 L321.0 131.4 L322.4 131.7 L323.9 132.0 L325.4 132.3 L326.8 132.6 L328.3 133.0 L329.8 133.3 L331.2 133.6 L332.7 133.9 L334.2 134.3 L335.6 134.6 L337.1 134.9 L338.5 135.3 L340.0 135.6 L341.5 135.9 L342.9 136.3 L344.4 136.6 L345.9 136.9 L347.3 137.3 L348.8 137.6 L350.3 137.9 L351.7 138.3 L353.2 138.6 L354.6 138.9 L356.1 139.3 L357.6 139.6 L359.0 139.9 L360.5 140.3 L362.0 140.6 L363.4 140.9 L364.9 141.2 L366.4 141.6 L367.8 141.9 L369.3 142.2 L370.8 142.6 L372.2 142.9 L373.7 143.2 L375.2 143.5 L376.6 143.9 L378.1 144.2 L379.6 144.5 L381.0 144.8 L382.5 145.1 L384.0 145.4 L385.4 145.7 L386.9 146.1 L388.4 146.4 L389.8 146.7 L391.3 147.0 L392.8 147.3 L394.2 147.6 L395.7 147.9 L397.2 148.2 L398.7 148.4 L400.1 148.7 L401.6 149.0 L403.1 149.3 L404.6 149.6 L406.0 149.8 L407.5 150.1 L409.0 150.4 L410.5 150.6 L412.0 150.9 L413.4 151.2 L414.9 151.4 L416.4 151.7 L417.9 151.9 L419.4 152.1 L420.8 152.4 L422.3 152.6 L423.8 152.8 L425.3 153.1 L426.8 153.3 L428.3 153.5 L429.8 153.7 L431.2 153.9 L432.7 154.1 L434.2 154.3 L435.7 154.5 L437.2 154.7 L438.7 154.9 L440.2 155.1 L441.7 155.2 L443.2 155.4 L444.7 155.5 L446.2 155.7 L447.7 155.9 L449.2 156.0 L450.7 156.1 L452.2 156.3 L453.7 156.4 L455.2 156.5 L456.7 156.6 L458.2 156.7 L459.7 156.9 L461.3 157.0 L462.8 157.1 L464.3 157.2 L465.8 157.3 L467.3 157.5 L468.8 157.6 L470.3 157.7 L471.8 157.9 L473.3 158.0 L474.9 158.2 L476.4 158.3 L477.9 158.5 L479.4 158.7 L480.9 158.9 L482.4 159.1 L483.9 159.3 L485.4 159.5 L486.9 159.8 L488.4 160.0 L489.9 160.3 L491.4 160.6 L492.9 160.9 L494.4 161.2 L495.9 161.6 L497.3 162.0 L498.8 162.4 L500.3 162.8 L501.7 163.2 L503.1 163.7 L504.5 164.2 L505.9 164.7 L507.3 165.3 L508.6 165.9 L510.0 166.5 L511.3 167.2 L512.6 167.8 L513.8 168.6 L515.1 169.3 L516.3 170.1 L517.5 171.0 L518.6 171.8 L519.8 172.7 L520.9 173.7 L521.9 174.6 L523.0 175.7 L524.0 176.7 L525.0 177.7 L526.0 178.8 L527.0 180.0 L527.9 181.1 L528.9 182.2 L529.8 183.4 L530.7 184.6 L531.5 185.9 L532.4 187.1 L533.3 188.3 L534.1 189.6 L534.9 190.9 L535.7 192.2 L536.5 193.5 L537.3 194.8 L538.1 196.1 L538.9 197.4 L539.7 198.7 L540.4 200.0 L541.2 201.4 L542.0 202.7 L542.7 204.0 L543.5 205.3 L544.2 206.7 L545.0 208.0 L545.7 209.3 L546.4 210.6 L547.2 212.0 L547.9 213.3 L548.7 214.6 L549.4 215.9 L550.1 217.3 L550.9 218.6 L551.6 219.9 L552.3 221.2 L553.0 222.5 L553.8 223.9 L554.5 225.2 L555.2 226.5 L556.0 227.8 L556.7 229.1 L557.5 230.4 L558.2 231.7 L558.9 233.0 L559.7 234.3 L560.4 235.6 L561.2 236.9 L562.0 238.2 L562.7 239.5 L563.5 240.7 L564.3 242.0 L565.0 243.3 L565.8 244.5 L566.6 245.8 L567.4 247.1 L568.2 248.3 L569.0 249.6 L569.8 250.8 L570.6 252.1 L571.5 253.3 L572.3 254.5 L573.1 255.7 L574.0 257.0 L574.8 258.2 L575.7 259.4 L576.6 260.6 L577.5 261.8 L578.4 263.0 L579.3 264.1 L580.2 265.3 L581.1 266.5 L582.1 267.6 L583.0 268.8 L584.0 269.9 L584.9 271.1 L585.9 272.2 L586.9 273.3 L587.9 274.4 L589.0 275.5 L590.0 276.6 L591.0 277.7 L592.1 278.8 L593.2 279.9 L594.3 280.9 L595.4 282.0 L596.5 283.0 L597.6 284.0 L598.7 285.1 L599.9 286.1 L601.0 287.1 L602.2 288.1 L603.4 289.0 L604.6 290.0 L605.8 290.9 L607.0 291.9 L608.2 292.8 L609.4 293.7 L610.7 294.6 L611.9 295.5 L613.2 296.4 L614.4 297.2 L615.7 298.1 L617.0 298.9 L618.3 299.7 L619.6 300.5 L620.9 301.3 L622.2 302.0 L623.5 302.8 L624.9 303.5 L626.2 304.2 L627.5 304.9 L628.9 305.6 L630.2 306.3 L631.6 306.9 L633.0 307.5 L634.3 308.1 L635.7 308.7 L637.1 309.3 L638.5 309.8 L639.9 310.4 L641.3 310.9 L642.7 311.4 L644.1 311.9 L645.5 312.3 L646.9 312.8 L648.3 313.2 L649.7 313.6 L651.2 314.0 L652.6 314.4 L654.0 314.8 L655.5 315.2 L656.9 315.5 L658.4 315.9 L659.8 316.2 L661.3 316.5 L662.7 316.8 L664.2 317.1 L665.7 317.4 L667.1 317.7 L668.6 317.9 L670.1 318.2 L671.5 318.4 L673.0 318.6 L674.5 318.9 L676.0 319.1 L677.5 319.3 L679.0 319.5 L680.5 319.7 L681.9 319.8 L683.4 320.0 L684.9 320.2 L686.4 320.3 L687.9 320.5 L689.4 320.6 L690.9 320.8 L692.4 320.9 L693.9 321.0 L695.4 321.2 L696.9 321.3 L698.4 321.4 L699.9 321.5 L701.4 321.6 L702.9 321.8 L704.4 321.9 L705.9 322.0 L707.5 322.1 L709.0 322.2 L710.5 322.3 L712.0 322.4 L713.5 322.5 L715.0 322.6 L716.5 322.7 L718.0 322.7 L719.5 322.8 L721.0 322.9 L722.5 323.0 L724.0 323.1 L725.5 323.2 L727.0 323.2 L728.5 323.3 L730.0 323.4 L731.5 323.5 L733.0 323.5 L734.5 323.6 L736.0 323.7 L737.5 323.7 L739.0 323.8 L740.5 323.9 L742.0 323.9 L743.5 324.0 L745.0 324.1 L746.5 324.1 L748.0 324.2 L749.6 324.2 L751.1 324.3 L752.6 324.3 L754.1 324.4 L755.6 324.4 L757.1 324.5 L758.6 324.5 L760.1 324.6 L761.6 324.6 L763.1 324.7 L764.6 324.7 L766.1 324.7 L767.6 324.8 L769.1 324.8 L770.6 324.9 L772.1 324.9 L773.6 324.9 L775.1 325.0 L776.6 325.0 L778.1 325.0 L779.6 325.1 L781.1 325.1 L782.6 325.1 L784.1 325.1 L785.6 325.2 L787.1 325.2 L788.6 325.2 L790.1 325.2 L791.6 325.3 L793.1 325.3 L794.6 325.3 L796.1 325.3 L797.6 325.4 L799.1 325.4 L800.6 325.4 L802.2 325.4 L803.7 325.4 L805.2 325.4 L806.7 325.5 L808.2 325.5 L809.7 325.5 L811.2 325.5 L812.7 325.5 L814.2 325.5 L815.7 325.6 L817.2 325.6 L818.7 325.6 L820.2 325.6 L821.7 325.6 L823.2 325.6 L824.7 325.6 L826.2 325.6 L827.7 325.7 L829.2 325.7 L830.7 325.7 L832.2 325.7 L833.7 325.7 L835.2 325.7 L836.7 325.7 L838.2 325.7 L839.7 325.7 L841.2 325.7 L842.7 325.8 L844.2 325.8 L845.7 325.8 L847.2 325.8 L848.7 325.8 L850.2 325.8 L851.7 325.8 L853.2 325.8 L854.7 325.8 L856.2 325.8 L857.7 325.9 L859.2 325.9 L860.7 325.9 L862.3 325.9 L863.8 325.9 L865.3 325.9 L866.8 325.9 L868.3 325.9 L869.8 325.9 L871.3 326.0 L872.8 326.0 L874.3 326.0 L875.8 326.0 L877.3 326.0 L878.8 326.0 L880.3 326.1 L881.8 326.1 L883.3 326.1 L884.8 326.1 L886.3 326.1 L887.8 326.1 L889.3 326.2 L890.8 326.2 L892.3 326.2 L893.8 326.2 L895.3 326.2 L896.8 326.3 L898.3 326.3 L899.8 326.3 L901.3 326.3 L902.8 326.4 L904.3 326.4 L905.8 326.4 L907.3 326.5 L908.8 326.5 L910.3 326.5 L911.8 326.5 L913.3 326.6 L914.8 326.6 L916.3 326.7 L917.8 326.7 L919.4 326.7 L920.9 326.8 L922.4 326.8 L923.9 326.8 L925.4 326.9 L926.9 326.9 L928.4 327.0 L929.9 327.0 L931.4 327.1 L932.9 327.1 L934.4 327.2 L935.9 327.2 L937.4 327.3 L938.9 327.3 L940.4 327.4 L941.9 327.4 L943.4 327.5" fill="none" stroke="#0000ff" stroke-width="5.8" stroke-linejoin="round" stroke-linecap="butt"/>
<path d="M112.4 68.10 L116.4 68.98 L120.4 69.66 L124.4 70.17 L128.4 70.57 L132.4 70.86 L136.4 71.09 L140.4 71.27 L144.4 71.41 L148.4 71.53 L152.4 71.64 L156.4 71.73 L160.4 71.81 L164.4 71.88 L168.4 71.94 L172.4 71.99 L176.4 72.04 L180.4 72.08 L184.4 72.11 L188.4 72.14 L192.4 72.17 L196.4 72.19 L200.4 72.22 L204.4 72.24 L208.4 72.27 L212.4 72.29 L216.4 72.31 L220.4 72.33 L224.4 72.35 L228.4 72.37 L232.4 72.39 L236.4 72.40 L240.4 72.42 L244.4 72.44 L248.4 72.45 L252.4 72.47 L256.4 72.48 L260.4 72.49 L264.4 72.51 L268.4 72.52 L272.4 72.53 L276.4 72.54 L280.4 72.55 L284.4 72.56 L288.4 72.57 L292.4 72.58 L296.4 72.59 L300.4 72.60 L304.4 72.61 L308.4 72.62 L312.4 72.63 L316.4 72.63 L320.4 72.64 L324.4 72.65 L328.4 72.66 L332.4 72.67 L336.4 72.67 L340.4 72.68 L344.4 72.69 L348.4 72.70 L352.4 72.70 L356.4 72.71 L360.4 72.72 L364.4 72.73 L368.4 72.73 L372.4 72.74 L376.4 72.75 L380.4 72.75 L384.4 72.76 L388.4 72.77 L392.4 72.77 L396.4 72.78 L400.4 72.78 L404.4 72.79 L408.4 72.80 L412.4 72.80 L416.4 72.81 L420.4 72.81 L424.4 72.82 L428.4 72.82 L432.4 72.83 L436.4 72.83 L440.4 72.84 L444.4 72.84 L448.4 72.85 L452.4 72.85 L456.4 72.86 L460.4 72.86 L464.4 72.87 L468.4 72.87 L472.4 72.88 L476.4 72.88 L480.4 72.89 L484.4 72.89 L488.4 72.90 L492.4 72.90 L496.4 72.91 L500.4 72.91 L504.4 72.91 L508.4 72.92 L512.4 72.92 L516.4 72.93 L520.4 72.93 L524.4 72.93 L528.4 72.94 L532.4 72.94 L536.4 72.94 L540.4 72.95 L544.4 72.95 L548.4 72.96 L552.4 72.96 L556.4 72.96 L560.4 72.97 L564.4 72.97 L568.4 72.97 L572.4 72.98 L576.4 72.98 L580.4 72.98 L584.4 72.99 L588.4 72.99 L592.4 72.99 L596.4 73.00 L600.4 73.00 L604.4 73.00 L608.4 73.01 L612.4 73.01 L616.4 73.01 L620.4 73.02 L624.4 73.02 L628.4 73.02 L632.4 73.03 L636.4 73.03 L640.4 73.03 L644.4 73.04 L648.4 73.04 L652.4 73.04 L656.4 73.05 L660.4 73.05 L664.4 73.05 L668.4 73.05 L672.4 73.06 L676.4 73.06 L680.4 73.06 L684.4 73.07 L688.4 73.07 L692.4 73.07 L696.4 73.08 L700.4 73.08 L704.4 73.08 L708.4 73.08 L712.4 73.09 L716.4 73.09 L720.4 73.09 L724.4 73.10 L728.4 73.10 L732.4 73.10 L736.4 73.10 L740.4 73.11 L744.4 73.11 L748.4 73.11 L752.4 73.11 L756.4 73.12 L760.4 73.12 L764.4 73.12 L768.4 73.13 L772.4 73.13 L776.4 73.13 L780.4 73.13 L784.4 73.14 L788.4 73.14 L792.4 73.14 L796.4 73.14 L800.4 73.14 L804.4 73.15 L808.4 73.15 L812.4 73.15 L816.4 73.15 L820.4 73.16 L824.4 73.16 L828.4 73.16 L832.4 73.16 L836.4 73.16 L840.4 73.17 L844.4 73.17 L848.4 73.17 L852.4 73.17 L856.4 73.17 L860.4 73.17 L864.4 73.18 L868.4 73.18 L872.4 73.18 L876.4 73.18 L880.4 73.18 L884.4 73.18 L888.4 73.19 L892.4 73.19 L896.4 73.19 L900.4 73.19 L904.4 73.19 L908.4 73.19 L912.4 73.19 L916.4 73.19 L920.4 73.19 L924.4 73.20 L928.4 73.20 L932.4 73.20 L936.4 73.20 L940.4 73.20 L943.4 73.20" fill="none" stroke="#00ff00" stroke-width="5.8" stroke-linejoin="round" stroke-linecap="butt"/>
</g>
<line x1="150.5" y1="422.5" x2="206.6" y2="422.5" stroke="#000000" stroke-width="6.6" stroke-linecap="round"/>
<text class="leg" transform="translate(213.5,431.5) scale(1,1.035)">Chitosan</text>
<line x1="150.5" y1="453.6" x2="206.6" y2="453.6" stroke="#ff0000" stroke-width="6.6" stroke-linecap="round"/>
<text class="leg" transform="translate(213.5,462.6) scale(1,1.035)">Chitosan-ZnO</text>
<line x1="150.5" y1="485" x2="206.6" y2="485" stroke="#0000ff" stroke-width="6.6" stroke-linecap="round"/>
<text class="leg" transform="translate(213.5,494.0) scale(1,1.035)">Chitosan-ZnO/PVP</text>
<line x1="150.5" y1="516" x2="206.6" y2="516" stroke="#00ff00" stroke-width="6.6" stroke-linecap="round"/>
<text class="leg" transform="translate(213.5,525.0) scale(1,1.035)">ZnO</text>
</svg>
</body>
</html>
